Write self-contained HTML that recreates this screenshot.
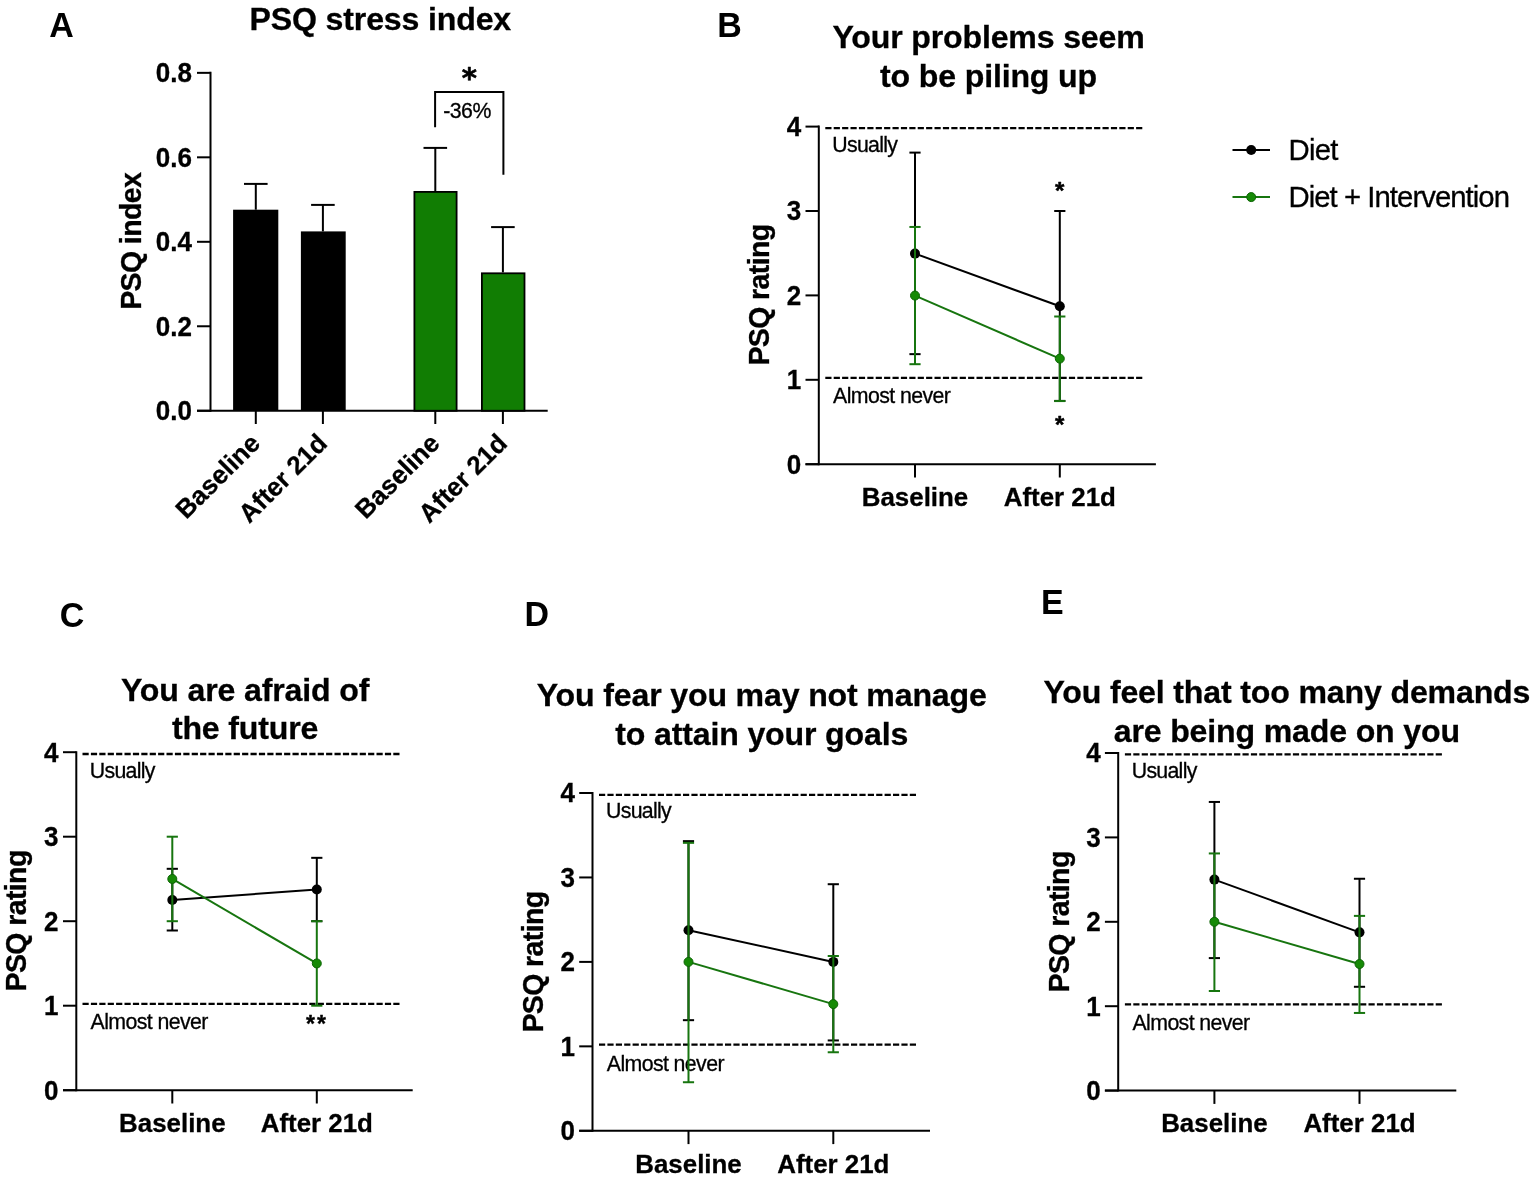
<!DOCTYPE html>
<html><head><meta charset="utf-8"><title>PSQ figure</title>
<style>html,body{margin:0;padding:0;background:#fff;} svg{display:block;}</style>
</head><body>
<svg width="1535" height="1178" viewBox="0 0 1535 1178" font-family="'Liberation Sans', Arial, Helvetica, sans-serif" fill="#000">
<rect width="1535" height="1178" fill="#fff"/>
<text transform="translate(49.20 36.60) scale(1 1.045)" font-size="34" font-weight="bold" text-anchor="start" >A</text>
<text transform="translate(380.30 29.60)" font-size="32.1" font-weight="bold" text-anchor="middle" letter-spacing="-0.15" stroke="#000" stroke-width="0.3">PSQ stress index</text>
<line x1="210.50" y1="71.85" x2="210.50" y2="411.75" stroke="#000" stroke-width="2" />
<line x1="197.00" y1="410.75" x2="210.50" y2="410.75" stroke="#000" stroke-width="2" />
<text transform="translate(192.00 420.15) scale(1 1.03)" font-size="26" font-weight="bold" text-anchor="end" stroke="#000" stroke-width="0.3">0.0</text>
<line x1="197.00" y1="326.27" x2="210.50" y2="326.27" stroke="#000" stroke-width="2" />
<text transform="translate(192.00 335.67) scale(1 1.03)" font-size="26" font-weight="bold" text-anchor="end" stroke="#000" stroke-width="0.3">0.2</text>
<line x1="197.00" y1="241.80" x2="210.50" y2="241.80" stroke="#000" stroke-width="2" />
<text transform="translate(192.00 251.20) scale(1 1.03)" font-size="26" font-weight="bold" text-anchor="end" stroke="#000" stroke-width="0.3">0.4</text>
<line x1="197.00" y1="157.32" x2="210.50" y2="157.32" stroke="#000" stroke-width="2" />
<text transform="translate(192.00 166.72) scale(1 1.03)" font-size="26" font-weight="bold" text-anchor="end" stroke="#000" stroke-width="0.3">0.6</text>
<line x1="197.00" y1="72.85" x2="210.50" y2="72.85" stroke="#000" stroke-width="2" />
<text transform="translate(192.00 82.25) scale(1 1.03)" font-size="26" font-weight="bold" text-anchor="end" stroke="#000" stroke-width="0.3">0.8</text>
<line x1="197.00" y1="410.75" x2="547.70" y2="410.75" stroke="#000" stroke-width="2" />
<text transform="translate(141.20 241.30) rotate(-90) scale(1 1.02)" font-size="28.5" font-weight="bold" text-anchor="middle" stroke="#000" stroke-width="0.3" letter-spacing="-0.6">PSQ index</text>
<line x1="255.80" y1="183.90" x2="255.80" y2="209.70" stroke="#000" stroke-width="2" />
<line x1="244.00" y1="183.90" x2="267.60" y2="183.90" stroke="#000" stroke-width="2" />
<rect x="233.10" y="209.70" width="45.20" height="201.05" fill="#000"/>
<line x1="255.80" y1="410.75" x2="255.80" y2="424.00" stroke="#000" stroke-width="2" />
<line x1="322.90" y1="204.90" x2="322.90" y2="231.40" stroke="#000" stroke-width="2" />
<line x1="311.10" y1="204.90" x2="334.70" y2="204.90" stroke="#000" stroke-width="2" />
<rect x="300.90" y="231.40" width="44.80" height="179.35" fill="#000"/>
<line x1="322.90" y1="410.75" x2="322.90" y2="424.00" stroke="#000" stroke-width="2" />
<line x1="435.30" y1="147.90" x2="435.30" y2="191.00" stroke="#000" stroke-width="2" />
<line x1="423.50" y1="147.90" x2="447.10" y2="147.90" stroke="#000" stroke-width="2" />
<rect x="414.40" y="191.90" width="42.20" height="218.85" fill="#117d03" stroke="#000" stroke-width="1.8"/>
<line x1="435.30" y1="410.75" x2="435.30" y2="424.00" stroke="#000" stroke-width="2" />
<line x1="502.90" y1="227.10" x2="502.90" y2="272.40" stroke="#000" stroke-width="2" />
<line x1="491.10" y1="227.10" x2="514.70" y2="227.10" stroke="#000" stroke-width="2" />
<rect x="481.90" y="273.30" width="42.60" height="137.45" fill="#117d03" stroke="#000" stroke-width="1.8"/>
<line x1="502.90" y1="410.75" x2="502.90" y2="424.00" stroke="#000" stroke-width="2" />
<polyline points="435.1,127.3 435.1,92 503.4,92 503.4,174.7" fill="none" stroke="#000" stroke-width="2"/>
<text x="469.3" y="88.3" font-size="29" font-weight="bold" text-anchor="middle" font-family="'DejaVu Sans', 'Liberation Sans', sans-serif" stroke="#000" stroke-width="0.6" stroke-linejoin="round">*</text>
<text transform="translate(467.00 118.30)" font-size="21.3" text-anchor="middle" stroke="#000" stroke-width="0.3" letter-spacing="-0.5">-36%</text>
<text transform="translate(261.60 444.80) rotate(-45)" font-size="25.9" font-weight="bold" text-anchor="end" stroke="#000" stroke-width="0.3">Baseline</text>
<text transform="translate(328.70 444.80) rotate(-45)" font-size="25.9" font-weight="bold" text-anchor="end" stroke="#000" stroke-width="0.3">After 21d</text>
<text transform="translate(441.10 444.80) rotate(-45)" font-size="25.9" font-weight="bold" text-anchor="end" stroke="#000" stroke-width="0.3">Baseline</text>
<text transform="translate(508.70 444.80) rotate(-45)" font-size="25.9" font-weight="bold" text-anchor="end" stroke="#000" stroke-width="0.3">After 21d</text>
<text transform="translate(717.30 36.50) scale(1 1.045)" font-size="34" font-weight="bold" text-anchor="start" >B</text>
<text transform="translate(988.50 48.10)" font-size="32.1" font-weight="bold" text-anchor="middle" letter-spacing="-0.15" stroke="#000" stroke-width="0.3">Your problems seem</text>
<text transform="translate(988.50 86.70)" font-size="32.1" font-weight="bold" text-anchor="middle" letter-spacing="-0.15" stroke="#000" stroke-width="0.3">to be piling up</text>
<line x1="818.80" y1="125.60" x2="818.80" y2="465.20" stroke="#000" stroke-width="2" />
<line x1="805.50" y1="464.20" x2="818.80" y2="464.20" stroke="#000" stroke-width="2" />
<text transform="translate(801.30 473.50) scale(1 1.03)" font-size="26" font-weight="bold" text-anchor="end" stroke="#000" stroke-width="0.3">0</text>
<line x1="805.50" y1="379.80" x2="818.80" y2="379.80" stroke="#000" stroke-width="2" />
<text transform="translate(801.30 389.10) scale(1 1.03)" font-size="26" font-weight="bold" text-anchor="end" stroke="#000" stroke-width="0.3">1</text>
<line x1="805.50" y1="295.40" x2="818.80" y2="295.40" stroke="#000" stroke-width="2" />
<text transform="translate(801.30 304.70) scale(1 1.03)" font-size="26" font-weight="bold" text-anchor="end" stroke="#000" stroke-width="0.3">2</text>
<line x1="805.50" y1="211.00" x2="818.80" y2="211.00" stroke="#000" stroke-width="2" />
<text transform="translate(801.30 220.30) scale(1 1.03)" font-size="26" font-weight="bold" text-anchor="end" stroke="#000" stroke-width="0.3">3</text>
<line x1="805.50" y1="126.60" x2="818.80" y2="126.60" stroke="#000" stroke-width="2" />
<text transform="translate(801.30 135.90) scale(1 1.03)" font-size="26" font-weight="bold" text-anchor="end" stroke="#000" stroke-width="0.3">4</text>
<line x1="805.50" y1="464.20" x2="1155.90" y2="464.20" stroke="#000" stroke-width="2" />
<line x1="915.00" y1="464.20" x2="915.00" y2="477.50" stroke="#000" stroke-width="2" />
<text transform="translate(915.00 506.30)" font-size="25.9" font-weight="bold" text-anchor="middle" stroke="#000" stroke-width="0.3">Baseline</text>
<line x1="1059.80" y1="464.20" x2="1059.80" y2="477.50" stroke="#000" stroke-width="2" />
<text transform="translate(1059.80 506.30)" font-size="25.9" font-weight="bold" text-anchor="middle" stroke="#000" stroke-width="0.3">After 21d</text>
<line x1="825.30" y1="128.10" x2="1143.80" y2="128.10" stroke="#000" stroke-width="2.3" stroke-dasharray="6.2 2.2"/>
<line x1="825.30" y1="377.90" x2="1143.80" y2="377.90" stroke="#000" stroke-width="2.3" stroke-dasharray="6.2 2.2"/>
<text transform="translate(832.30 152.30)" font-size="21.3" text-anchor="start" stroke="#000" stroke-width="0.3" letter-spacing="-0.7">Usually</text>
<text transform="translate(833.10 403.40)" font-size="21.3" text-anchor="start" stroke="#000" stroke-width="0.3" letter-spacing="-0.6">Almost never</text>
<text transform="translate(769.00 295.00) rotate(-90) scale(1 1.02)" font-size="28.5" font-weight="bold" text-anchor="middle" stroke="#000" stroke-width="0.3" letter-spacing="-0.6">PSQ rating</text>
<line x1="915.00" y1="253.62" x2="1059.80" y2="306.29" stroke="#000" stroke-width="2" />
<line x1="915.00" y1="152.60" x2="915.00" y2="354.14" stroke="#000" stroke-width="2" />
<line x1="909.40" y1="152.60" x2="920.60" y2="152.60" stroke="#000" stroke-width="2" />
<line x1="909.40" y1="354.14" x2="920.60" y2="354.14" stroke="#000" stroke-width="2" />
<line x1="1059.80" y1="211.00" x2="1059.80" y2="400.90" stroke="#000" stroke-width="2" />
<line x1="1054.20" y1="211.00" x2="1065.40" y2="211.00" stroke="#000" stroke-width="2" />
<line x1="1054.20" y1="400.90" x2="1065.40" y2="400.90" stroke="#000" stroke-width="2" />
<circle cx="915.00" cy="253.62" r="5" fill="#000"/>
<circle cx="1059.80" cy="306.29" r="5" fill="#000"/>
<line x1="915.00" y1="295.57" x2="1059.80" y2="358.62" stroke="#17750f" stroke-width="2" />
<line x1="915.00" y1="226.95" x2="915.00" y2="364.19" stroke="#17750f" stroke-width="2" />
<line x1="909.40" y1="226.95" x2="920.60" y2="226.95" stroke="#17750f" stroke-width="2" />
<line x1="909.40" y1="364.19" x2="920.60" y2="364.19" stroke="#17750f" stroke-width="2" />
<line x1="1059.80" y1="316.50" x2="1059.80" y2="401.07" stroke="#17750f" stroke-width="2" />
<line x1="1054.20" y1="316.50" x2="1065.40" y2="316.50" stroke="#17750f" stroke-width="2" />
<line x1="1054.20" y1="401.07" x2="1065.40" y2="401.07" stroke="#17750f" stroke-width="2" />
<circle cx="915.00" cy="295.57" r="4.5" fill="#168a06" stroke="#0c6405" stroke-width="1"/>
<circle cx="1059.80" cy="358.62" r="4.5" fill="#168a06" stroke="#0c6405" stroke-width="1"/>
<text x="1059.7" y="199.4" font-size="24" font-weight="bold" text-anchor="middle" stroke="#000" stroke-width="0.5" stroke-linejoin="round">*</text>
<text x="1059.7" y="432.7" font-size="24" font-weight="bold" text-anchor="middle" stroke="#000" stroke-width="0.5" stroke-linejoin="round">*</text>
<line x1="1232.50" y1="150.00" x2="1270.00" y2="150.00" stroke="#000" stroke-width="2" />
<circle cx="1251.2" cy="150.0" r="5" fill="#000"/>
<line x1="1232.50" y1="197.10" x2="1270.00" y2="197.10" stroke="#17750f" stroke-width="2" />
<circle cx="1251.2" cy="197.1" r="4.5" fill="#168a06" stroke="#0c6405" stroke-width="1"/>
<text transform="translate(1288.50 159.60)" font-size="29.3" text-anchor="start" stroke="#000" stroke-width="0.3" letter-spacing="-0.75">Diet</text>
<text transform="translate(1288.50 206.50)" font-size="29.3" text-anchor="start" stroke="#000" stroke-width="0.3" letter-spacing="-0.95">Diet + Intervention</text>
<text transform="translate(59.80 626.50) scale(1 1.045)" font-size="34" font-weight="bold" text-anchor="start" >C</text>
<text transform="translate(245.10 700.80)" font-size="32.1" font-weight="bold" text-anchor="middle" letter-spacing="-0.15" stroke="#000" stroke-width="0.3">You are afraid of</text>
<text transform="translate(245.10 739.00)" font-size="32.1" font-weight="bold" text-anchor="middle" letter-spacing="-0.15" stroke="#000" stroke-width="0.3">the future</text>
<line x1="76.30" y1="751.20" x2="76.30" y2="1091.20" stroke="#000" stroke-width="2" />
<line x1="63.00" y1="1090.20" x2="76.30" y2="1090.20" stroke="#000" stroke-width="2" />
<text transform="translate(58.40 1099.50) scale(1 1.03)" font-size="26" font-weight="bold" text-anchor="end" stroke="#000" stroke-width="0.3">0</text>
<line x1="63.00" y1="1005.70" x2="76.30" y2="1005.70" stroke="#000" stroke-width="2" />
<text transform="translate(58.40 1015.00) scale(1 1.03)" font-size="26" font-weight="bold" text-anchor="end" stroke="#000" stroke-width="0.3">1</text>
<line x1="63.00" y1="921.20" x2="76.30" y2="921.20" stroke="#000" stroke-width="2" />
<text transform="translate(58.40 930.50) scale(1 1.03)" font-size="26" font-weight="bold" text-anchor="end" stroke="#000" stroke-width="0.3">2</text>
<line x1="63.00" y1="836.70" x2="76.30" y2="836.70" stroke="#000" stroke-width="2" />
<text transform="translate(58.40 846.00) scale(1 1.03)" font-size="26" font-weight="bold" text-anchor="end" stroke="#000" stroke-width="0.3">3</text>
<line x1="63.00" y1="752.20" x2="76.30" y2="752.20" stroke="#000" stroke-width="2" />
<text transform="translate(58.40 761.50) scale(1 1.03)" font-size="26" font-weight="bold" text-anchor="end" stroke="#000" stroke-width="0.3">4</text>
<line x1="63.00" y1="1090.20" x2="412.70" y2="1090.20" stroke="#000" stroke-width="2" />
<line x1="172.30" y1="1090.20" x2="172.30" y2="1103.50" stroke="#000" stroke-width="2" />
<text transform="translate(172.30 1131.80)" font-size="25.9" font-weight="bold" text-anchor="middle" stroke="#000" stroke-width="0.3">Baseline</text>
<line x1="316.80" y1="1090.20" x2="316.80" y2="1103.50" stroke="#000" stroke-width="2" />
<text transform="translate(316.80 1131.80)" font-size="25.9" font-weight="bold" text-anchor="middle" stroke="#000" stroke-width="0.3">After 21d</text>
<line x1="82.50" y1="754.00" x2="400.90" y2="754.00" stroke="#000" stroke-width="2.3" stroke-dasharray="6.2 2.2"/>
<line x1="82.50" y1="1003.90" x2="400.90" y2="1003.90" stroke="#000" stroke-width="2.3" stroke-dasharray="6.2 2.2"/>
<text transform="translate(89.80 778.10)" font-size="21.3" text-anchor="start" stroke="#000" stroke-width="0.3" letter-spacing="-0.7">Usually</text>
<text transform="translate(90.60 1029.10)" font-size="21.3" text-anchor="start" stroke="#000" stroke-width="0.3" letter-spacing="-0.6">Almost never</text>
<text transform="translate(25.90 920.90) rotate(-90) scale(1 1.02)" font-size="28.5" font-weight="bold" text-anchor="middle" stroke="#000" stroke-width="0.3" letter-spacing="-0.6">PSQ rating</text>
<line x1="172.30" y1="900.08" x2="316.80" y2="889.51" stroke="#000" stroke-width="2" />
<line x1="172.30" y1="868.81" x2="172.30" y2="930.50" stroke="#000" stroke-width="2" />
<line x1="166.70" y1="868.81" x2="177.90" y2="868.81" stroke="#000" stroke-width="2" />
<line x1="166.70" y1="930.50" x2="177.90" y2="930.50" stroke="#000" stroke-width="2" />
<line x1="316.80" y1="857.83" x2="316.80" y2="921.20" stroke="#000" stroke-width="2" />
<line x1="311.20" y1="857.83" x2="322.40" y2="857.83" stroke="#000" stroke-width="2" />
<line x1="311.20" y1="921.20" x2="322.40" y2="921.20" stroke="#000" stroke-width="2" />
<circle cx="172.30" cy="900.08" r="5" fill="#000"/>
<circle cx="316.80" cy="889.51" r="5" fill="#000"/>
<line x1="172.30" y1="878.95" x2="316.80" y2="963.45" stroke="#17750f" stroke-width="2" />
<line x1="172.30" y1="836.70" x2="172.30" y2="921.20" stroke="#17750f" stroke-width="2" />
<line x1="166.70" y1="836.70" x2="177.90" y2="836.70" stroke="#17750f" stroke-width="2" />
<line x1="166.70" y1="921.20" x2="177.90" y2="921.20" stroke="#17750f" stroke-width="2" />
<line x1="316.80" y1="921.20" x2="316.80" y2="1005.70" stroke="#17750f" stroke-width="2" />
<line x1="311.20" y1="921.20" x2="322.40" y2="921.20" stroke="#17750f" stroke-width="2" />
<line x1="311.20" y1="1005.70" x2="322.40" y2="1005.70" stroke="#17750f" stroke-width="2" />
<circle cx="172.30" cy="878.95" r="4.5" fill="#168a06" stroke="#0c6405" stroke-width="1"/>
<circle cx="316.80" cy="963.45" r="4.5" fill="#168a06" stroke="#0c6405" stroke-width="1"/>
<text x="306.0" y="1031.9" font-size="23" font-weight="bold" text-anchor="start" letter-spacing="2.05" stroke="#000" stroke-width="0.4" stroke-linejoin="round">**</text>
<text transform="translate(524.40 626.30) scale(1 1.045)" font-size="34" font-weight="bold" text-anchor="start" >D</text>
<text transform="translate(761.70 705.70)" font-size="32.1" font-weight="bold" text-anchor="middle" letter-spacing="-0.15" stroke="#000" stroke-width="0.3">You fear you may not manage</text>
<text transform="translate(761.70 744.60)" font-size="32.1" font-weight="bold" text-anchor="middle" letter-spacing="-0.15" stroke="#000" stroke-width="0.3">to attain your goals</text>
<line x1="592.50" y1="792.00" x2="592.50" y2="1131.80" stroke="#000" stroke-width="2" />
<line x1="579.20" y1="1130.80" x2="592.50" y2="1130.80" stroke="#000" stroke-width="2" />
<text transform="translate(575.00 1140.10) scale(1 1.03)" font-size="26" font-weight="bold" text-anchor="end" stroke="#000" stroke-width="0.3">0</text>
<line x1="579.20" y1="1046.35" x2="592.50" y2="1046.35" stroke="#000" stroke-width="2" />
<text transform="translate(575.00 1055.65) scale(1 1.03)" font-size="26" font-weight="bold" text-anchor="end" stroke="#000" stroke-width="0.3">1</text>
<line x1="579.20" y1="961.90" x2="592.50" y2="961.90" stroke="#000" stroke-width="2" />
<text transform="translate(575.00 971.20) scale(1 1.03)" font-size="26" font-weight="bold" text-anchor="end" stroke="#000" stroke-width="0.3">2</text>
<line x1="579.20" y1="877.45" x2="592.50" y2="877.45" stroke="#000" stroke-width="2" />
<text transform="translate(575.00 886.75) scale(1 1.03)" font-size="26" font-weight="bold" text-anchor="end" stroke="#000" stroke-width="0.3">3</text>
<line x1="579.20" y1="793.00" x2="592.50" y2="793.00" stroke="#000" stroke-width="2" />
<text transform="translate(575.00 802.30) scale(1 1.03)" font-size="26" font-weight="bold" text-anchor="end" stroke="#000" stroke-width="0.3">4</text>
<line x1="579.20" y1="1130.80" x2="930.00" y2="1130.80" stroke="#000" stroke-width="2" />
<line x1="688.50" y1="1130.80" x2="688.50" y2="1144.10" stroke="#000" stroke-width="2" />
<text transform="translate(688.50 1172.70)" font-size="25.9" font-weight="bold" text-anchor="middle" stroke="#000" stroke-width="0.3">Baseline</text>
<line x1="833.30" y1="1130.80" x2="833.30" y2="1144.10" stroke="#000" stroke-width="2" />
<text transform="translate(833.30 1172.70)" font-size="25.9" font-weight="bold" text-anchor="middle" stroke="#000" stroke-width="0.3">After 21d</text>
<line x1="599.00" y1="794.80" x2="917.80" y2="794.80" stroke="#000" stroke-width="2.3" stroke-dasharray="6.2 2.2"/>
<line x1="599.00" y1="1044.70" x2="917.80" y2="1044.70" stroke="#000" stroke-width="2.3" stroke-dasharray="6.2 2.2"/>
<text transform="translate(606.00 817.80)" font-size="21.3" text-anchor="start" stroke="#000" stroke-width="0.3" letter-spacing="-0.7">Usually</text>
<text transform="translate(606.80 1070.50)" font-size="21.3" text-anchor="start" stroke="#000" stroke-width="0.3" letter-spacing="-0.6">Almost never</text>
<text transform="translate(542.60 962.00) rotate(-90) scale(1 1.02)" font-size="28.5" font-weight="bold" text-anchor="middle" stroke="#000" stroke-width="0.3" letter-spacing="-0.6">PSQ rating</text>
<line x1="688.50" y1="930.23" x2="833.30" y2="961.90" stroke="#000" stroke-width="2" />
<line x1="688.50" y1="841.14" x2="688.50" y2="1020.17" stroke="#000" stroke-width="2" />
<line x1="682.90" y1="841.14" x2="694.10" y2="841.14" stroke="#000" stroke-width="2" />
<line x1="682.90" y1="1020.17" x2="694.10" y2="1020.17" stroke="#000" stroke-width="2" />
<line x1="833.30" y1="884.21" x2="833.30" y2="1040.44" stroke="#000" stroke-width="2" />
<line x1="827.70" y1="884.21" x2="838.90" y2="884.21" stroke="#000" stroke-width="2" />
<line x1="827.70" y1="1040.44" x2="838.90" y2="1040.44" stroke="#000" stroke-width="2" />
<circle cx="688.50" cy="930.23" r="5" fill="#000"/>
<circle cx="833.30" cy="961.90" r="5" fill="#000"/>
<line x1="688.50" y1="961.90" x2="833.30" y2="1004.12" stroke="#17750f" stroke-width="2" />
<line x1="688.50" y1="842.83" x2="688.50" y2="1082.24" stroke="#17750f" stroke-width="2" />
<line x1="682.90" y1="842.83" x2="694.10" y2="842.83" stroke="#17750f" stroke-width="2" />
<line x1="682.90" y1="1082.24" x2="694.10" y2="1082.24" stroke="#17750f" stroke-width="2" />
<line x1="833.30" y1="955.99" x2="833.30" y2="1052.26" stroke="#17750f" stroke-width="2" />
<line x1="827.70" y1="955.99" x2="838.90" y2="955.99" stroke="#17750f" stroke-width="2" />
<line x1="827.70" y1="1052.26" x2="838.90" y2="1052.26" stroke="#17750f" stroke-width="2" />
<circle cx="688.50" cy="961.90" r="4.5" fill="#168a06" stroke="#0c6405" stroke-width="1"/>
<circle cx="833.30" cy="1004.12" r="4.5" fill="#168a06" stroke="#0c6405" stroke-width="1"/>
<text transform="translate(1041.00 613.90) scale(1 1.045)" font-size="34" font-weight="bold" text-anchor="start" >E</text>
<text transform="translate(1286.80 703.20)" font-size="32.1" font-weight="bold" text-anchor="middle" letter-spacing="-0.15" stroke="#000" stroke-width="0.3">You feel that too many demands</text>
<text transform="translate(1286.80 741.60)" font-size="32.1" font-weight="bold" text-anchor="middle" letter-spacing="-0.15" stroke="#000" stroke-width="0.3">are being made on you</text>
<line x1="1118.20" y1="752.00" x2="1118.20" y2="1091.60" stroke="#000" stroke-width="2" />
<line x1="1104.90" y1="1090.60" x2="1118.20" y2="1090.60" stroke="#000" stroke-width="2" />
<text transform="translate(1100.70 1099.90) scale(1 1.03)" font-size="26" font-weight="bold" text-anchor="end" stroke="#000" stroke-width="0.3">0</text>
<line x1="1104.90" y1="1006.20" x2="1118.20" y2="1006.20" stroke="#000" stroke-width="2" />
<text transform="translate(1100.70 1015.50) scale(1 1.03)" font-size="26" font-weight="bold" text-anchor="end" stroke="#000" stroke-width="0.3">1</text>
<line x1="1104.90" y1="921.80" x2="1118.20" y2="921.80" stroke="#000" stroke-width="2" />
<text transform="translate(1100.70 931.10) scale(1 1.03)" font-size="26" font-weight="bold" text-anchor="end" stroke="#000" stroke-width="0.3">2</text>
<line x1="1104.90" y1="837.40" x2="1118.20" y2="837.40" stroke="#000" stroke-width="2" />
<text transform="translate(1100.70 846.70) scale(1 1.03)" font-size="26" font-weight="bold" text-anchor="end" stroke="#000" stroke-width="0.3">3</text>
<line x1="1104.90" y1="753.00" x2="1118.20" y2="753.00" stroke="#000" stroke-width="2" />
<text transform="translate(1100.70 762.30) scale(1 1.03)" font-size="26" font-weight="bold" text-anchor="end" stroke="#000" stroke-width="0.3">4</text>
<line x1="1104.90" y1="1090.60" x2="1456.30" y2="1090.60" stroke="#000" stroke-width="2" />
<line x1="1214.40" y1="1090.60" x2="1214.40" y2="1103.90" stroke="#000" stroke-width="2" />
<text transform="translate(1214.40 1132.00)" font-size="25.9" font-weight="bold" text-anchor="middle" stroke="#000" stroke-width="0.3">Baseline</text>
<line x1="1359.50" y1="1090.60" x2="1359.50" y2="1103.90" stroke="#000" stroke-width="2" />
<text transform="translate(1359.50 1132.00)" font-size="25.9" font-weight="bold" text-anchor="middle" stroke="#000" stroke-width="0.3">After 21d</text>
<line x1="1124.90" y1="754.40" x2="1443.70" y2="754.40" stroke="#000" stroke-width="2.3" stroke-dasharray="6.2 2.2"/>
<line x1="1124.90" y1="1004.30" x2="1443.70" y2="1004.30" stroke="#000" stroke-width="2.3" stroke-dasharray="6.2 2.2"/>
<text transform="translate(1131.70 778.30)" font-size="21.3" text-anchor="start" stroke="#000" stroke-width="0.3" letter-spacing="-0.7">Usually</text>
<text transform="translate(1132.50 1030.20)" font-size="21.3" text-anchor="start" stroke="#000" stroke-width="0.3" letter-spacing="-0.6">Almost never</text>
<text transform="translate(1068.80 921.90) rotate(-90) scale(1 1.02)" font-size="28.5" font-weight="bold" text-anchor="middle" stroke="#000" stroke-width="0.3" letter-spacing="-0.6">PSQ rating</text>
<line x1="1214.40" y1="879.60" x2="1359.50" y2="932.35" stroke="#000" stroke-width="2" />
<line x1="1214.40" y1="801.95" x2="1214.40" y2="958.09" stroke="#000" stroke-width="2" />
<line x1="1208.80" y1="801.95" x2="1220.00" y2="801.95" stroke="#000" stroke-width="2" />
<line x1="1208.80" y1="958.09" x2="1220.00" y2="958.09" stroke="#000" stroke-width="2" />
<line x1="1359.50" y1="878.76" x2="1359.50" y2="986.79" stroke="#000" stroke-width="2" />
<line x1="1353.90" y1="878.76" x2="1365.10" y2="878.76" stroke="#000" stroke-width="2" />
<line x1="1353.90" y1="986.79" x2="1365.10" y2="986.79" stroke="#000" stroke-width="2" />
<circle cx="1214.40" cy="879.60" r="5" fill="#000"/>
<circle cx="1359.50" cy="932.35" r="5" fill="#000"/>
<line x1="1214.40" y1="921.80" x2="1359.50" y2="964.00" stroke="#17750f" stroke-width="2" />
<line x1="1214.40" y1="853.44" x2="1214.40" y2="991.01" stroke="#17750f" stroke-width="2" />
<line x1="1208.80" y1="853.44" x2="1220.00" y2="853.44" stroke="#17750f" stroke-width="2" />
<line x1="1208.80" y1="991.01" x2="1220.00" y2="991.01" stroke="#17750f" stroke-width="2" />
<line x1="1359.50" y1="915.89" x2="1359.50" y2="1012.95" stroke="#17750f" stroke-width="2" />
<line x1="1353.90" y1="915.89" x2="1365.10" y2="915.89" stroke="#17750f" stroke-width="2" />
<line x1="1353.90" y1="1012.95" x2="1365.10" y2="1012.95" stroke="#17750f" stroke-width="2" />
<circle cx="1214.40" cy="921.80" r="4.5" fill="#168a06" stroke="#0c6405" stroke-width="1"/>
<circle cx="1359.50" cy="964.00" r="4.5" fill="#168a06" stroke="#0c6405" stroke-width="1"/>
</svg>
</body></html>
